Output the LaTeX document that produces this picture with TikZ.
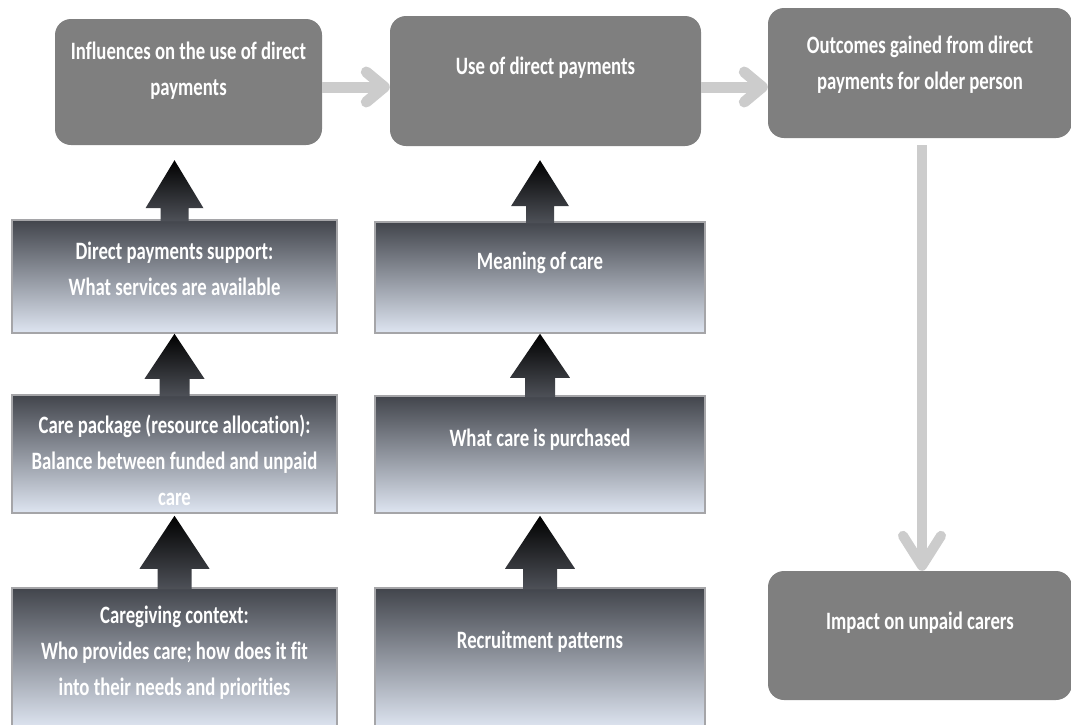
\documentclass[tikz,border=0pt]{standalone}
\usepackage{fontspec}
\newfontfamily\boxfont[FakeStretch=0.75, Ligatures={NoCommon}]{Carlito}
\usetikzlibrary{arrows.meta,calc}

\definecolor{boxgray}{RGB}{127,127,127}
\definecolor{linkgray}{RGB}{204,204,204}
\definecolor{shadetop}{RGB}{66,69,76}
\definecolor{shadebot}{RGB}{222,229,241}
\definecolor{edgegray}{RGB}{165,165,168}
\definecolor{arrowbot}{RGB}{78,81,88}

% block arrow from lower node #1 up to node #2: gap, head length, head half width, shaft half width
\newcommand{\blockarr}[6]{%
  \path (#1.north) coordinate (ab) (#1.north |- #2.south) coordinate (at);
  \shade[top color=black, bottom color=arrowbot] ($(at)+(0,#3)$) coordinate (tp)
    -- ++(-#5,#4) -- ++(#5-#6,0) |- ($(ab)+(#6,2)$) |- ($(tp)+(#5,#4)$) -- cycle;
}

\begin{document}
\begin{tikzpicture}[x=1pt, y=-1pt,
  topbox/.style={fill=boxgray, rounded corners=16pt, inner sep=0pt},
  gradbox/.style={top color=shadetop, bottom color=shadebot, draw=edgegray, line width=1.5pt, inner sep=0pt},
  boxtext/.style={text=white, align=center, inner sep=0pt, font=\boxfont\bfseries\fontsize{25}{36}\selectfont},
  link/.style={draw=linkgray, line width=11pt, -{Straight Barb[length=18pt, width=30pt, round]}}]
\useasboundingbox (0,0) rectangle (1071,724);

% top row
\node[topbox, minimum width=267pt, minimum height=126pt] (infl) at (188.5,82) {};
\node[topbox, minimum width=311pt, minimum height=130pt] (use) at (545.5,81) {};
\node[topbox, minimum width=304pt, minimum height=130pt] (outc) at (920,73) {};
\node[topbox, minimum width=304pt, minimum height=129pt] (impact) at (920,635.5) {};
\node[boxtext] (infl-t) at ($(infl)+(0,-11)$) {Influences on the use of direct\\payments};
\node[boxtext] (use-t) at ($(use)+(0,-13)$) {Use of direct payments};
\node[boxtext] (outc-t) at ($(outc)+(0,-8.5)$) {Outcomes gained from direct\\payments for older person};
\node[boxtext] (impact-t) at ($(impact)+(0,-12.5)$) {Impact on unpaid carers};

% shaded columns
\node[gradbox, minimum width=325pt, minimum height=113pt] (dpsupp) at (174.5,276.5) {};
\node[gradbox, minimum width=325pt, minimum height=118pt] (carepkg) at (174.5,454) {};
\node[gradbox, minimum width=325pt, minimum height=140pt] (context) at (174.5,658) {};
\node[gradbox, minimum width=330pt, minimum height=111pt] (meaning) at (540,277.5) {};
\node[gradbox, minimum width=330pt, minimum height=117pt] (purch) at (540,454.5) {};
\node[gradbox, minimum width=330pt, minimum height=140pt] (recruit) at (540,658) {};
\node[boxtext] (dpsupp-t) at ($(dpsupp)+(0,-7.5)$) {Direct payments support:\\What services are available};
\node[boxtext] (carepkg-t) at ($(carepkg)+(0,6)$) {Care package (resource allocation):\\Balance between funded and unpaid\\care};
\node[boxtext] (context-t) at ($(context)+(0,-5)$) {Caregiving context:\\Who provides care; how does it fit\\into their needs and priorities};
\node[boxtext] (meaning-t) at ($(meaning)+(0,-14.5)$) {Meaning of care};
\node[boxtext] (purch-t) at ($(purch)+(0,-14.5)$) {What care is purchased};
\node[boxtext] (recruit-t) at ($(recruit)+(0,-16)$) {Recruitment patterns};

% block arrows
\blockarr{dpsupp}{infl}{15}{48}{29}{14}
\blockarr{meaning}{use}{14}{46}{29}{14}
\blockarr{carepkg}{dpsupp}{0}{45}{30}{15}
\blockarr{purch}{meaning}{0}{44}{30}{15}
\blockarr{context}{carepkg}{2}{53}{35}{17}
\blockarr{recruit}{purch}{2}{53}{35}{17}

% grey links
\draw[link] ($(infl.east)+(0,5)$) -- ($(use.west)+(0,6)$);
\draw[link] ($(use.east)+(0,6)$) -- ($(outc.west)+(0,14)$);
\draw[link, line width=10pt, -{Straight Barb[length=30pt, width=38pt, round]}] ($(outc.south)+(2,7)$) -- ($(impact.north)+(2,0)$);
\end{tikzpicture}
\end{document}
